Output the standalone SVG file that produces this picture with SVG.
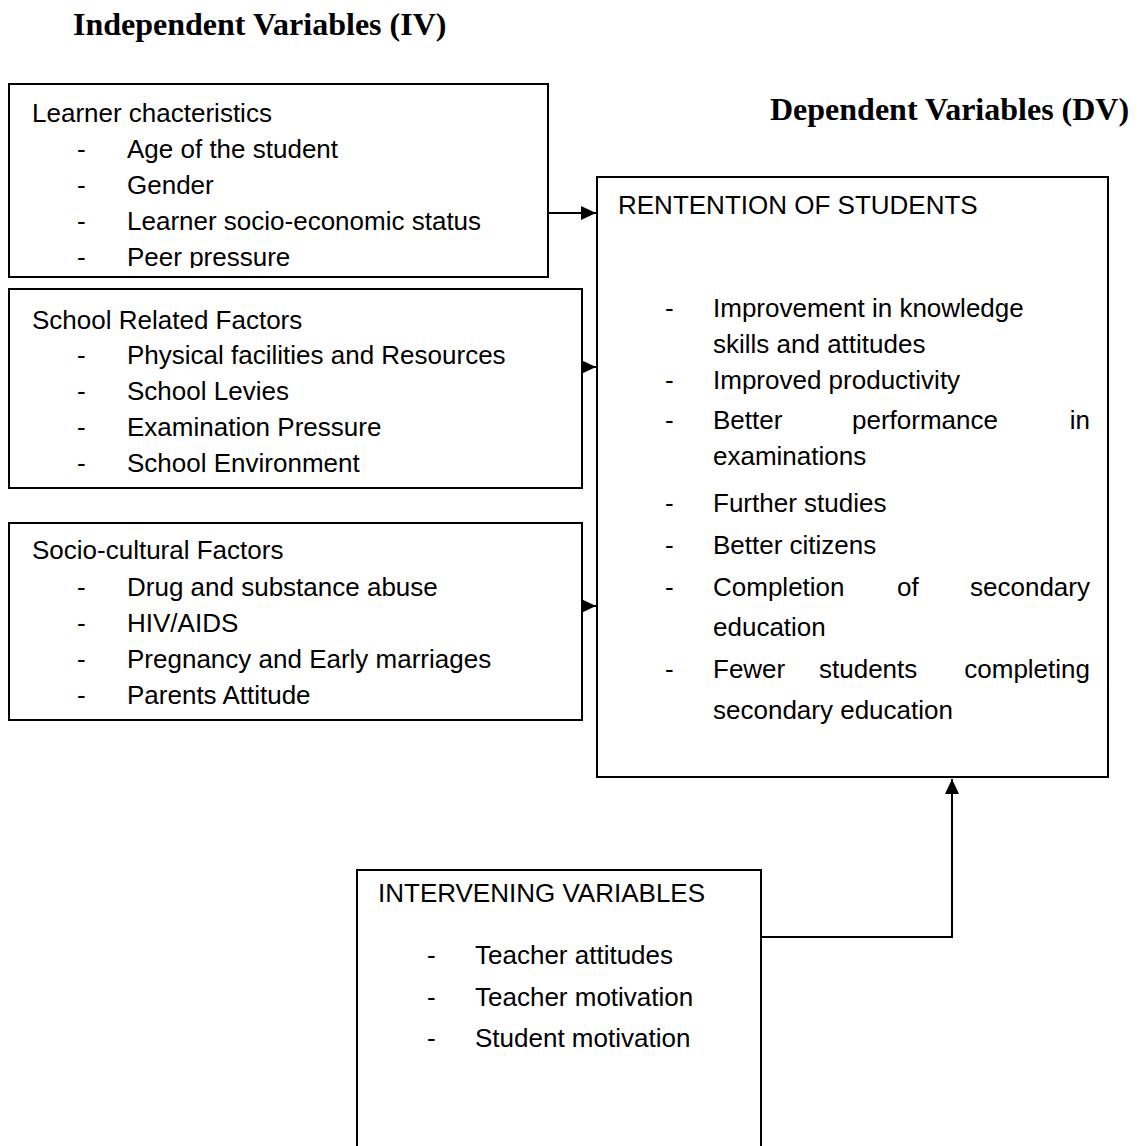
<svg xmlns="http://www.w3.org/2000/svg" width="1140" height="1146" viewBox="0 0 1140 1146">
<style>
.t{font-family:"Liberation Sans",Arial,sans-serif;font-size:26px;fill:#000}
.h{font-family:"Liberation Serif","Times New Roman",serif;font-size:32px;font-weight:bold;fill:#000}
.b{fill:#fff;stroke:#000;stroke-width:2}
.c{fill:none;stroke:#000;stroke-width:2}
</style>
<defs>
<marker id="ah" markerWidth="15" markerHeight="14" refX="15" refY="7" orient="auto" markerUnits="userSpaceOnUse"><path d="M0,0 L15,7 L0,14 z" fill="#000"/></marker>
<clipPath id="cp1"><rect x="9" y="84" width="540" height="184"/></clipPath>
</defs>
<rect width="1140" height="1146" fill="#fff"/>
<text class="h" x="73" y="35">Independent Variables (IV)</text>
<text class="h" x="770" y="120">Dependent Variables (DV)</text>
<g id="learner">
<rect class="b" x="9" y="84" width="539" height="193"/>
<g clip-path="url(#cp1)">
<text class="t" x="32" y="122">Learner chacteristics</text>
<text class="t" x="77" y="158">-</text><text class="t" x="127" y="158">Age of the student</text>
<text class="t" x="77" y="194">-</text><text class="t" x="127" y="194">Gender</text>
<text class="t" x="77" y="230">-</text><text class="t" x="127" y="230">Learner socio-economic status</text>
<text class="t" x="77" y="266">-</text><text class="t" x="127" y="266">Peer pressure</text>
</g>
</g>
<g id="school">
<rect class="b" x="9" y="289" width="573" height="199"/>
<text class="t" x="32" y="329">School Related Factors</text>
<text class="t" x="77" y="364">-</text><text class="t" x="127" y="364">Physical facilities and Resources</text>
<text class="t" x="77" y="400">-</text><text class="t" x="127" y="400">School Levies</text>
<text class="t" x="77" y="436">-</text><text class="t" x="127" y="436">Examination Pressure</text>
<text class="t" x="77" y="472">-</text><text class="t" x="127" y="472">School Environment</text>
</g>
<g id="socio">
<rect class="b" x="9" y="523" width="573" height="197"/>
<text class="t" x="32" y="559">Socio-cultural Factors</text>
<text class="t" x="77" y="596">-</text><text class="t" x="127" y="596">Drug and substance abuse</text>
<text class="t" x="77" y="632">-</text><text class="t" x="127" y="632">HIV/AIDS</text>
<text class="t" x="77" y="668">-</text><text class="t" x="127" y="668">Pregnancy and Early marriages</text>
<text class="t" x="77" y="704">-</text><text class="t" x="127" y="704">Parents Attitude</text>
</g>
<g id="retention">
<rect class="b" x="597" y="177" width="511" height="600"/>
<text class="t" x="618" y="214">RENTENTION OF STUDENTS</text>
<text class="t" x="665" y="317">-</text><text class="t" x="713" y="317">Improvement in knowledge</text>
<text class="t" x="713" y="353">skills and attitudes</text>
<text class="t" x="665" y="389">-</text><text class="t" x="713" y="389">Improved productivity</text>
<text class="t" x="665" y="429">-</text><text class="t" x="713" y="429">Better</text><text class="t" x="852" y="429">performance</text><text class="t" x="1090" y="429" text-anchor="end">in</text>
<text class="t" x="713" y="465">examinations</text>
<text class="t" x="665" y="512">-</text><text class="t" x="713" y="512">Further studies</text>
<text class="t" x="665" y="554">-</text><text class="t" x="713" y="554">Better citizens</text>
<text class="t" x="665" y="596">-</text><text class="t" x="713" y="596">Completion</text><text class="t" x="897" y="596">of</text><text class="t" x="1090" y="596" text-anchor="end">secondary</text>
<text class="t" x="713" y="636">education</text>
<text class="t" x="665" y="678">-</text><text class="t" x="713" y="678">Fewer</text><text class="t" x="819" y="678">students</text><text class="t" x="1090" y="678" text-anchor="end">completing</text>
<text class="t" x="713" y="719">secondary education</text>
</g>
<g id="intervening">
<path class="b" d="M357,1147 V870 H761 V1147"/>
<text class="t" x="378" y="902">INTERVENING VARIABLES</text>
<text class="t" x="427" y="964">-</text><text class="t" x="475" y="964">Teacher attitudes</text>
<text class="t" x="427" y="1006">-</text><text class="t" x="475" y="1006">Teacher motivation</text>
<text class="t" x="427" y="1047">-</text><text class="t" x="475" y="1047">Student motivation</text>
</g>
<g id="connectors">
<line class="c" x1="548" y1="213" x2="596" y2="213" marker-end="url(#ah)"/>
<line class="c" x1="582" y1="367" x2="596" y2="367" marker-end="url(#ah)"/>
<line class="c" x1="582" y1="606" x2="596" y2="606" marker-end="url(#ah)"/>
<polyline class="c" points="761,937 952,937 952,779" marker-end="url(#ah)"/>
</g>
</svg>
